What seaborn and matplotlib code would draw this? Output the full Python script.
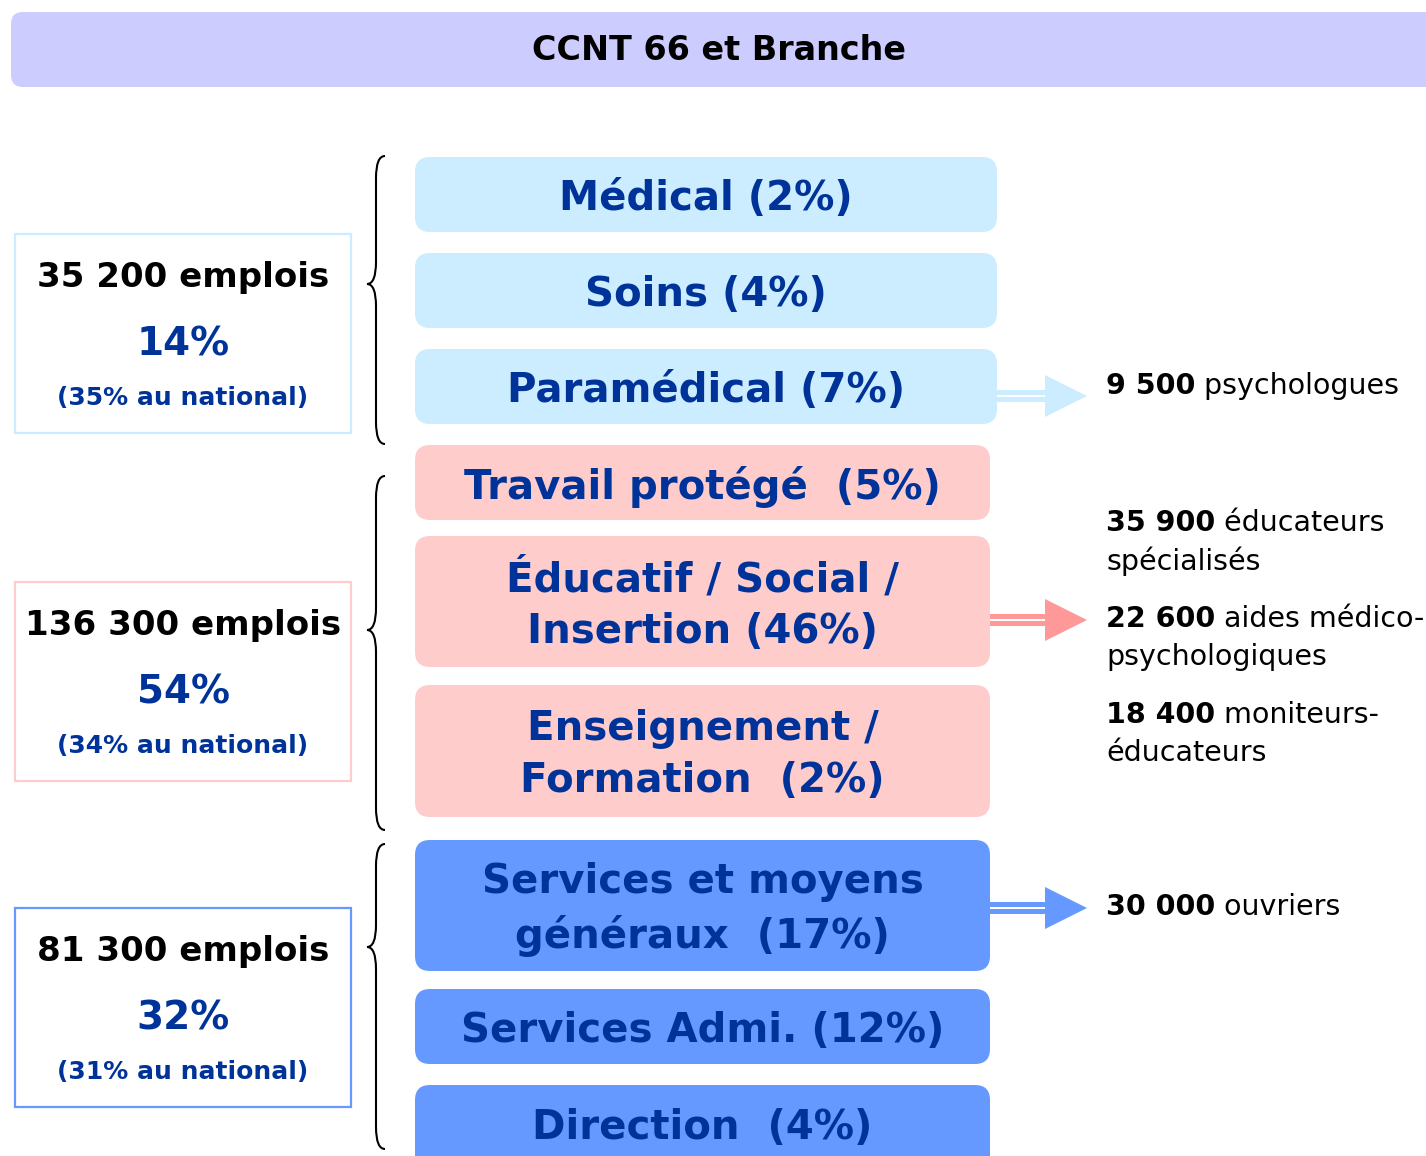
import matplotlib
matplotlib.use("Agg")
import matplotlib.pyplot as plt
import seaborn as sns
from matplotlib.patches import FancyBboxPatch, Rectangle, Polygon, PathPatch
from matplotlib.path import Path

## data
title = "CCNT 66 et Branche"
categories = ["Médical", "Soins", "Paramédical",
              "Travail protégé ", "Éducatif / Social /\nInsertion", "Enseignement /\nFormation ",
              "Services et moyens\ngénéraux ", "Services Admi.", "Direction "]
shares = [2, 4, 7, 5, 46, 2, 17, 12, 4]
group_of = [0, 0, 0, 1, 1, 1, 2, 2, 2]

group_jobs = [35200, 136300, 81300]
group_share = [14, 54, 32]
national_share = [35, 34, 31]

detail_numbers = [[9500], [35900, 22600, 18400], [30000]]
detail_texts = [["psychologues"],
                ["éducateurs\nspécialisés", "aides médico-\npsychologiques", "moniteurs-\néducateurs"],
                ["ouvriers"]]

## layout (pixels)
box_top = [157, 253, 349, 445, 536, 685, 840, 989, 1085]
box_bot = [232, 328, 424, 520, 667, 817, 971, 1064, 1170]
box_right = [997, 990, 990]
left_box = [(234, 433), (582, 781), (908, 1107)]
brace_span = [(156, 444, 284), (476, 830, 630), (844, 1149, 947)]
arrow_y = [396, 620, 908]
detail_y = [[386], [523, 619, 715], [907]]

## styles
fill_col = ["#CCECFF", "#FFCCCC", "#6699FF"]
edge_col = ["#CCECFF", "#FFCCCC", "#6699FF"]
arrow_col = ["#CCECFF", "#FF9999", "#6699FF"]
dark_blue = "#003399"

sns.set_theme(style="white")
plt.rcParams['font.family'] = ['DejaVu Sans']

fig = plt.figure(figsize=(14.26, 11.56), dpi=100)
ax = fig.add_axes([0, 0, 1, 1])
ax.set_xlim(0, 1426)
ax.set_ylim(1156, 0)
ax.axis("off")

def fmt(n):
    return f"{n:,}".replace(",", " ")

# title band
ax.add_patch(FancyBboxPatch((11, 12), 1430, 75, boxstyle="round,pad=0,rounding_size=12",
                            fc="#CCCCFF", ec="none"))
ax.text(719, 51, title, ha="center", va="center", fontsize=24, fontweight="bold", color="black")

# category boxes
for i, (cat, s) in enumerate(zip(categories, shares)):
    g = group_of[i]
    x0, x1 = 415, box_right[g]
    ax.add_patch(FancyBboxPatch((x0, box_top[i]), x1 - x0, box_bot[i] - box_top[i],
                                boxstyle="round,pad=0,rounding_size=15",
                                fc=fill_col[g], ec="none"))
    yc = (box_top[i] + box_bot[i]) / 2 if i < 8 else 1124
    ax.text((x0 + x1) / 2, yc + 4, f"{cat} ({s}%)", ha="center", va="center",
            fontsize=29, fontweight="bold", color=dark_blue, linespacing=1.38)

# left summary boxes
for g in range(3):
    t, b = left_box[g]
    ax.add_patch(Rectangle((15, t), 336, b - t, fc="white", ec=edge_col[g], lw=1.6))
    ax.text(183, t + 44, f"{fmt(group_jobs[g])} emplois", ha="center", va="center",
            fontsize=24.5, fontweight="bold", color="black")
    ax.text(183, t + 111, f"{group_share[g]}%", ha="center", va="center",
            fontsize=28, fontweight="bold", color=dark_blue)
    ax.text(183, t + 164, f"({national_share[g]}% au national)", ha="center", va="center",
            fontsize=18, fontweight="bold", color=dark_blue)

# braces
for top, bot, tip in brace_span:
    xe, xv, xt = 385, 376, 367
    c = 22
    verts = [(xe, top), (xv, top), (xv, top + c), (xv, top + c),
             (xv, tip - c), (xv, tip), (xt, tip),
             (xv, tip), (xv, tip + c),
             (xv, bot - c), (xv, bot - c), (xv, bot), (xe, bot)]
    codes = [Path.MOVETO, Path.CURVE3, Path.CURVE3, Path.LINETO,
             Path.LINETO, Path.CURVE3, Path.CURVE3,
             Path.CURVE3, Path.CURVE3,
             Path.LINETO, Path.LINETO, Path.CURVE3, Path.CURVE3]
    ax.add_patch(PathPatch(Path(verts, codes), fc="none", ec="black", lw=1.5))

# arrows
for g in range(3):
    y = arrow_y[g]
    xs = box_right[g]
    ax.add_patch(Rectangle((xs, y - 6), 1045 - xs, 12, fc=arrow_col[g], ec="none"))
    ax.add_patch(Rectangle((xs, y - 1), 1045 - xs, 2, fc="white", ec="none"))
    ax.add_patch(Polygon([(1045, y - 21), (1045, y + 21), (1087, y)], closed=True,
                         fc=arrow_col[g], ec="none"))

# detail texts (bold number + regular text)
renderer = fig.canvas.get_renderer()
for g in range(3):
    for n, txt, y in zip(detail_numbers[g], detail_texts[g], detail_y[g]):
        lines = txt.split("\n")
        tb = ax.text(1106, y, fmt(n), ha="left", va="center", fontsize=20.5,
                     fontweight="bold", color="black")
        bb = tb.get_window_extent(renderer=renderer)
        ax.text(bb.x1, y, " " + lines[0], ha="left", va="center", fontsize=20.5, color="black")
        for k, line in enumerate(lines[1:]):
            ax.text(1106, y + 38 * (k + 1), line, ha="left", va="center", fontsize=20.5,
                    color="black")

fig.savefig("out.png", dpi=100)
